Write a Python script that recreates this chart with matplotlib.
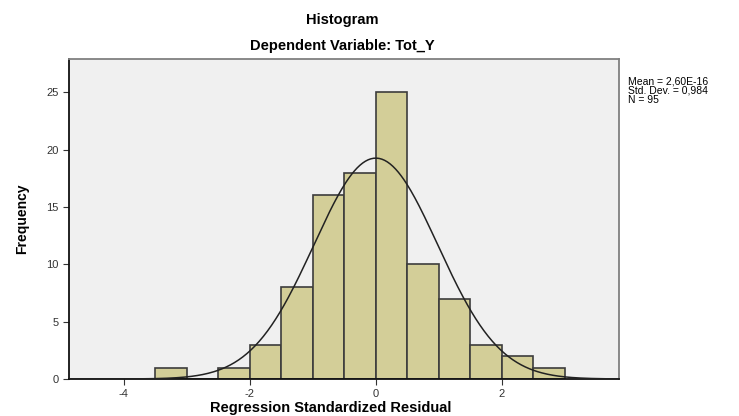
#!/usr/bin/env python3

import numpy as np
import matplotlib.pyplot as plt

bin_edges = [-3.5, -3.0, -2.5, -2.0, -1.5, -1.0, -0.5, 0.0, 0.5, 1.0, 1.5, 2.0, 2.5, 3.0]
counts = [1, 0, 1, 3, 8, 16, 18, 25, 10, 7, 3, 2, 1]
mean = 2.60e-16
std_dev = 0.984
n_obs = 95
x_ticks = [-4, -2, 0, 2]
y_ticks = [0, 5, 10, 15, 20, 25]

plt.rcParams["font.family"] = ["Liberation Sans", "DejaVu Sans"]
plt.rcParams["axes.unicode_minus"] = False


def main():
    fig = plt.figure(figsize=(7.39, 4.16), dpi=100)
    ax = fig.add_axes([69 / 739, 37 / 416, 550 / 739, 320 / 416])
    ax.set_facecolor("#f0f0f0")

    widths = np.diff(bin_edges)
    ax.bar(bin_edges[:-1], counts, width=widths, align="edge",
           color="#d3ce98", edgecolor="#3c3c3c", linewidth=1.2, zorder=2)

    xs = np.linspace(-4.87, 3.86, 400)
    bin_width = widths[0]
    curve = n_obs * bin_width / (std_dev * np.sqrt(2 * np.pi)) * np.exp(-0.5 * ((xs - mean) / std_dev) ** 2)
    ax.plot(xs, curve, color="#222222", linewidth=1.1, zorder=3)

    ax.set_xlim(-4.87, 3.86)
    ax.set_ylim(0, 27.9)
    ax.set_xticks(x_ticks)
    ax.set_yticks(y_ticks)
    ax.tick_params(labelsize=8, labelcolor="#333333", length=4, width=0.8, color="#333333")

    for side in ("left", "bottom"):
        ax.spines[side].set_color("#111111")
        ax.spines[side].set_linewidth(1.3)
    for side in ("top", "right"):
        ax.spines[side].set_color("#808080")
        ax.spines[side].set_linewidth(1.3)

    ax.set_ylabel("Frequency", fontsize=10, fontweight="bold", labelpad=12)
    fig.text(331 / 739, 1 - 408 / 416, "Regression Standardized Residual", ha="center", va="center",
             fontsize=10.5, fontweight="bold")

    fig.text(342 / 739, 1 - 20 / 416, "Histogram", ha="center", va="center", fontsize=10.5, fontweight="bold")
    fig.text(342 / 739, 1 - 46 / 416, "Dependent Variable: Tot_Y", ha="center", va="center",
             fontsize=10.5, fontweight="bold")

    stats = f"Mean = 2,60E-16\nStd. Dev. = 0,984\nN = {n_obs}"
    fig.text(628 / 739, 1 - 76 / 416, stats, ha="left", va="top", fontsize=7.5, linespacing=0.95)

    fig.savefig("out.png", dpi=100)


if __name__ == "__main__":
    main()
